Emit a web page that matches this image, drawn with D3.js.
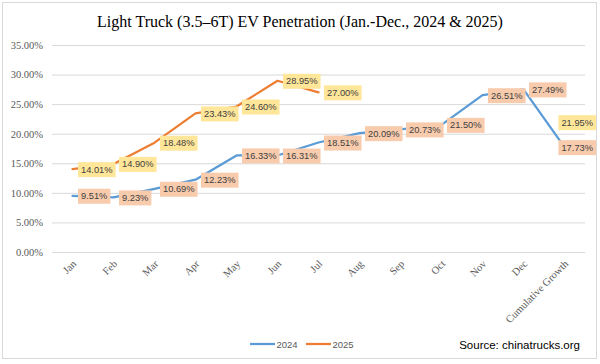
<!DOCTYPE html>
<html>
<head>
<meta charset="utf-8">
<script src="https://cdn.jsdelivr.net/npm/d3@7"></script>
<style>
  html, body { margin: 0; padding: 0; background: #fff; }
  svg { display: block; }
</style>
</head>
<body>
<svg id="chart" width="600" height="364"></svg>
<script>
const categories = ["Jan","Feb","Mar","Apr","May","Jun","Jul","Aug","Sep","Oct","Nov","Dec","Cumulative Growth"];
const values2024 = [9.51, 9.23, 10.69, 12.23, 16.33, 16.31, 18.51, 20.09, 20.73, 21.50, 26.51, 27.49, 17.73];
const values2025 = [14.01, 14.90, 18.48, 23.43, 24.60, 28.95, 27.00, null, null, null, null, null, 21.95];
const yTicks = [0, 5, 10, 15, 20, 25, 30, 35];
const seriesNames = ["2024", "2025"];
const titleText = "Light Truck (3.5\u20136T) EV Penetration (Jan.-Dec., 2024 & 2025)";
const sourceText = "Source: chinatrucks.org";

const W = 600, H = 364;
const plot = { left: 52, right: 585, top: 45, bottom: 252 };
const colors = ["#5b9bd5", "#ed7d31"];
const labelFills = ["#f8cbad", "#ffe699"];

const svg = d3.select("#chart");

// outer border
svg.append("rect").attr("x", 2.5).attr("y", 2.5).attr("width", 594).attr("height", 356)
  .attr("fill", "#fff").attr("stroke", "#d9d9d9").attr("stroke-width", 1);

// title
svg.append("text").attr("x", 300).attr("y", 27).attr("text-anchor", "middle")
  .attr("font-family", "'Liberation Serif', 'Times New Roman', serif").attr("font-size", 16)
  .attr("fill", "#000").text(titleText);

const x = d3.scaleBand().domain(categories).range([plot.left, plot.right]).padding(0);
const y = d3.scaleLinear().domain([0, 35]).range([plot.bottom, plot.top]);
const cx = c => x(c) + x.bandwidth() / 2;

// gridlines + y labels
const yAxis = d3.axisLeft(y).tickValues(yTicks).tickSize(-(plot.right - plot.left))
  .tickPadding(9).tickFormat(d => d.toFixed(2) + "%");
const gy = svg.append("g").attr("transform", `translate(${plot.left},0)`).call(yAxis);
gy.select(".domain").remove();
gy.selectAll(".tick line").attr("stroke", "#d9d9d9").attr("stroke-width", 1);
gy.selectAll(".tick text").attr("font-family", "'Liberation Serif', 'Times New Roman', serif")
  .attr("font-size", 10.5).attr("fill", "#595959");

// x axis labels
const xAxis = d3.axisBottom(x).tickSize(0).tickPadding(0);
const gx = svg.append("g").attr("transform", `translate(0,${plot.bottom})`).call(xAxis);
gx.select(".domain").remove();
gx.selectAll(".tick text")
  .attr("font-family", "'Liberation Serif', 'Times New Roman', serif")
  .attr("font-size", 10.5).attr("fill", "#595959")
  .attr("text-anchor", "end")
  .attr("dy", null)
  .attr("transform", "translate(2,10) rotate(-45)")
  .attr("y", 0).attr("x", 0)
  .attr("dominant-baseline", "central");

// lines
const series = [values2024, values2025];
series.forEach((vals, i) => {
  const line = d3.line()
    .defined(d => d.v != null)
    .x(d => cx(d.c)).y(d => y(d.v));
  const data = categories.map((c, k) => ({ c, v: vals[k] }));
  svg.append("path").datum(data).attr("d", line)
    .attr("fill", "none").attr("stroke", colors[i]).attr("stroke-width", 2.25)
    .attr("stroke-linejoin", "round").attr("stroke-linecap", "round");
});

// data labels
series.forEach((vals, i) => {
  categories.forEach((c, k) => {
    const v = vals[k];
    if (v == null) return;
    const txt = v.toFixed(2) + "%";
    const g = svg.append("g");
    const t = g.append("text").attr("font-family", "'Liberation Sans', Arial, sans-serif")
      .attr("font-size", 9.3).attr("fill", "#404040").text(txt);
    const tw = t.node().getComputedTextLength();
    const bw = tw + 6, bh = 15;
    let bx = cx(c) + 5.5;
    if (bx + bw > 596) bx = 596 - bw;
    const by = y(v) - bh / 2 + 0.5;
    g.insert("rect", "text").attr("x", bx).attr("y", by).attr("width", bw).attr("height", bh)
      .attr("fill", labelFills[i]);
    t.attr("x", bx + 3).attr("y", by + bh / 2).attr("dominant-baseline", "central");
  });
});

// legend
const legendX = [250, 306];
seriesNames.forEach((n, i) => {
  svg.append("line").attr("x1", legendX[i]).attr("x2", legendX[i] + 25)
    .attr("y1", 344).attr("y2", 344).attr("stroke", colors[i]).attr("stroke-width", 2.25);
  svg.append("text").attr("x", legendX[i] + 26.5).attr("y", 344).attr("dominant-baseline", "central")
    .attr("font-family", "'Liberation Sans', Arial, sans-serif").attr("font-size", 9.5)
    .attr("fill", "#595959").text(n);
});

// source
svg.append("text").attr("x", 580).attr("y", 349).attr("text-anchor", "end")
  .attr("font-family", "'Liberation Sans', Arial, sans-serif").attr("font-size", 11.5)
  .attr("fill", "#000").text(sourceText);
</script>
</body>
</html>
